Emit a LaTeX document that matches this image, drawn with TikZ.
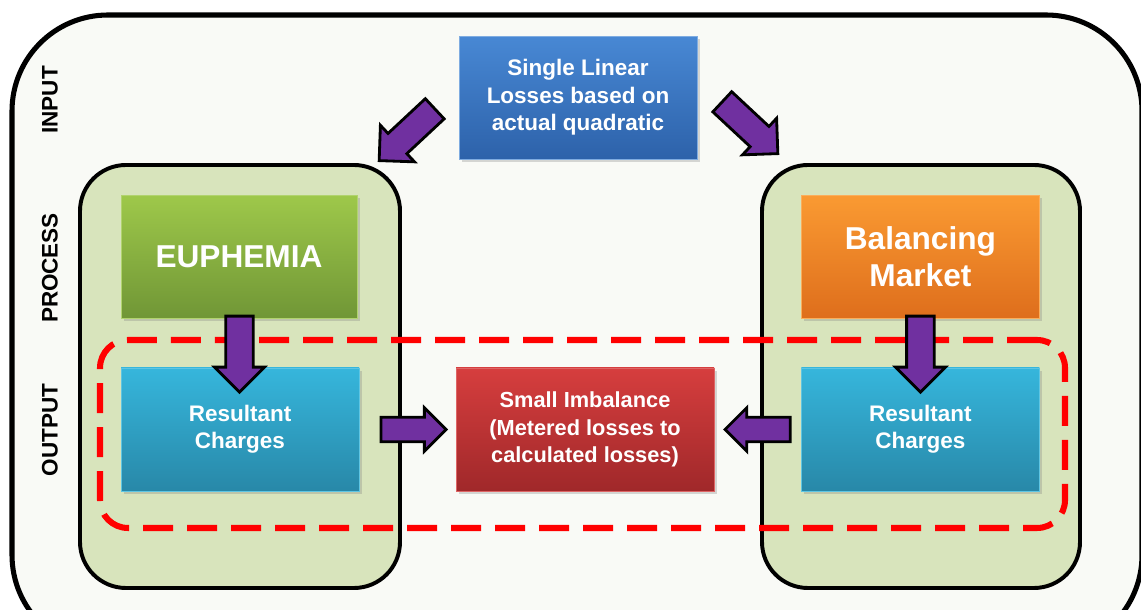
\documentclass[tikz,border=0pt]{standalone}
\usepackage{fontspec}
\setmainfont{Liberation Sans}
\usepackage{tikz}
\usetikzlibrary{shapes.arrows, shadows, calc, positioning}
\definecolor{framefill}{RGB}{249, 250, 246}
\definecolor{panelfill}{RGB}{216, 228, 188}
\definecolor{arrowcolor}{RGB}{112, 48, 160}
\definecolor{inputtop}{RGB}{72, 136, 212}
\definecolor{inputbot}{RGB}{45, 98, 170}
\definecolor{euphtop}{RGB}{158, 200, 74}
\definecolor{euphbot}{RGB}{112, 150, 54}
\definecolor{baltop}{RGB}{250, 154, 50}
\definecolor{balbot}{RGB}{222, 110, 28}
\definecolor{restop}{RGB}{54, 182, 220}
\definecolor{resbot}{RGB}{40, 136, 168}
\definecolor{imbtop}{RGB}{214, 62, 62}
\definecolor{imbbot}{RGB}{160, 40, 42}

\begin{document}
\begin{tikzpicture}[
    panel/.style={draw, line width=2.8pt, fill=panelfill, rounded corners=1.15cm, minimum height=10.575cm},
    block/.style={rectangle, minimum width=5.95cm, minimum height=3.075cm, align=center, text=white, line width=0.6pt, drop shadow={opacity=0.3, shadow xshift=0.07cm, shadow yshift=-0.07cm}},
    fatarrow/.style={single arrow, draw=black, line width=2pt, fill=arrowcolor, inner xsep=0pt, inner ysep=0.31cm, single arrow tip angle=90, single arrow head extend=0.28cm, minimum height=1.9cm},
    smallarrow/.style={fatarrow, inner ysep=0.27cm, single arrow head extend=0.24cm, minimum height=1.63cm},
    stage/.style={rotate=90, font=\fontsize{16}{19}\selectfont\bfseries},
]
    \useasboundingbox (0,0) rectangle (28.525,15.25);
    \clip (0,0) rectangle (28.525,15.25);

    % Frame and panels
    \node[draw, line width=3.6pt, fill=framefill, rounded corners=2.4cm, minimum width=28.25cm, minimum height=15.9cm] (frame) at (14.425, 6.925) {};
    \node[panel, minimum width=8cm] (leftpanel) at (6, 5.8375) {};
    \node[panel, minimum width=7.95cm] (rightpanel) at (23.025, 5.8375) {};
    \node[draw=red, line width=4.3pt, dash pattern=on 0.75cm off 0.35cm, rounded corners=0.7cm, minimum width=24.125cm, minimum height=4.7cm] (outzone) at (14.5625, 4.4) {};

    % Stage labels
    \node[stage] (lblinput) at (1.25, 12.75) {INPUT};
    \node[stage] (lblprocess) at (1.25, 8.55) {PROCESS};
    \node[stage] (lbloutput) at (1.25, 4.5) {OUTPUT};

    % Blocks
    \node[block, top color=inputtop, bottom color=inputbot, draw=inputtop!70!white, font=\fontsize{16}{19.5}\selectfont\bfseries] (linloss) at (14.45, 12.81) {Single Linear\\Losses based on\\actual quadratic};
    \node[block, minimum width=5.9cm, top color=euphtop, bottom color=euphbot, draw=euphtop!80!white, font=\fontsize{22.5}{26}\selectfont\bfseries] (euphemia) at (5.975, 8.825) {EUPHEMIA};
    \node[block, top color=baltop, bottom color=balbot, draw=baltop!80!white, font=\fontsize{22.5}{26.3}\selectfont\bfseries] (balancing) at (23.01, 8.825) {Balancing\\Market};
    \node[block, top color=restop, bottom color=resbot, draw=restop!80!white, font=\fontsize{16}{19.5}\selectfont\bfseries] (resleft) at (6, 4.5125) {Resultant\\Charges};
    \node[block, minimum width=6.45cm, top color=imbtop, bottom color=imbbot, draw=imbtop!80!white, font=\fontsize{15.5}{19.5}\selectfont\bfseries] (imbalance) at (14.625, 4.5125) {Small Imbalance\\(Metered losses to\\calculated losses)};
    \node[block, top color=restop, bottom color=resbot, draw=restop!80!white, font=\fontsize{16}{19.5}\selectfont\bfseries] (resright) at (23.01, 4.5125) {Resultant\\Charges};

    % Arrows
    \node[fatarrow, rotate=223] (inleft) at (10.3, 12.0) {};
    \node[fatarrow, rotate=-43] (inright) at (18.625, 12.175) {};
    \node[fatarrow, rotate=-90] (downleft) at ($(euphemia.south)!0.5!(resleft.north)+(0,-0.1)$) {};
    \node[fatarrow, rotate=-90] (downright) at ($(balancing.south)!0.5!(resright.north)+(0,-0.1)$) {};
    \node[smallarrow] (fromleft) at ($(resleft.east)!0.5!(imbalance.west)$) {};
    \node[smallarrow, rotate=180] (fromright) at ($(imbalance.east)!0.5!(resright.west)+(0.15,0)$) {};
\end{tikzpicture}
\end{document}
